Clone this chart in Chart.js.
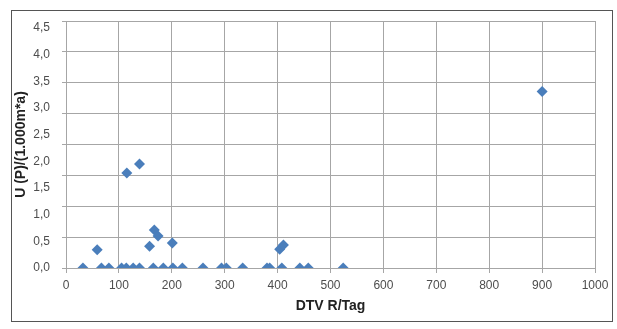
<!DOCTYPE html>
<html>
<head>
<meta charset="utf-8">
<script src="https://cdn.jsdelivr.net/npm/chart.js@4"></script>
<style>
  html, body { margin: 0; padding: 0; background: #fff; }
  #wrap { position: relative; width: 617px; height: 329px; }
  #frame { position: absolute; left: 11px; top: 10px; width: 600px; height: 310px; border: 1px solid #555; pointer-events: none; }
</style>
</head>
<body>
<div id="wrap">
  <canvas id="chart" width="617" height="329"></canvas>
  <div id="frame"></div>
</div>
<script>
// DTV (x) vs U (y)
const dtvValues = [32, 59, 67, 81, 105, 114, 115, 127, 139, 139, 158, 165, 167, 174, 184, 201, 202, 220, 259, 294, 303, 334, 380, 385, 404, 408, 411, 442, 458, 524, 900];
const uValues   = [0, 0.34, 0, 0, 0, 0, 1.78, 0, 0, 1.95, 0.41, 0, 0.71, 0.60, 0, 0.47, 0, 0, 0, 0, 0, 0, 0, 0, 0.35, 0, 0.43, 0, 0, 0, 3.31];
const yTickLabels = [0, 0.5, 1, 1.5, 2, 2.5, 3, 3.5, 4, 4.5];
const xTitle = 'DTV R/Tag';
const yTitle = 'U (P)/(1.000m*a)';

const points = dtvValues.map((x, i) => ({ x: x, y: uValues[i] }));
const gridGray = '#a6a6a6';
const labelColor = '#4d4d4d';

document.addEventListener('DOMContentLoaded', () => {
    new Chart(document.getElementById('chart'), {
        type: 'scatter',
        data: {
            datasets: [{
                data: points,
                pointStyle: 'rectRot',
                pointRadius: 5.5,
                backgroundColor: '#4a7ebb',
                borderColor: '#4a7ebb',
                borderWidth: 0
            }]
        },
        options: {
            responsive: false,
            animation: false,
            layout: { padding: { top: 21, right: 22, left: 0, bottom: 0 } },
            plugins: { legend: { display: false }, tooltip: { enabled: false } },
            scales: {
                x: {
                    type: 'linear',
                    min: 0, max: 1000,
                    ticks: {
                        stepSize: 100, color: labelColor, padding: 5,
                        font: { family: 'Liberation Sans', size: 12 },
                        callback: v => String(v)
                    },
                    grid: { color: gridGray, tickLength: 5 },
                    border: { color: gridGray },
                    title: { display: true, text: xTitle, color: '#222', padding: { top: 4, bottom: 14 }, font: { family: 'Liberation Sans', size: 14, weight: 'bold' } },
                    afterFit: s => { s.height = 61; }
                },
                // labelled axis the values are read against
                y: {
                    type: 'linear',
                    position: 'left',
                    weight: 1,
                    min: 0, max: 4.63,
                    afterBuildTicks: s => { s.ticks = yTickLabels.map(v => ({ value: v })); },
                    ticks: {
                        color: labelColor, padding: 4,
                        font: { family: 'Liberation Sans', size: 12 },
                        callback: v => v.toFixed(1).replace('.', ',')
                    },
                    grid: { display: false },
                    border: { display: false },
                    title: { display: true, text: yTitle, color: '#222', padding: { top: 13, bottom: 0 }, font: { family: 'Liberation Sans', size: 14, weight: 'bold' } },
                    afterFit: s => { s.width = 62; }
                },
                // gridlines as drawn in the source sheet
                yGrid: {
                    type: 'linear',
                    position: 'left',
                    weight: 0,
                    min: 0, max: 4,
                    ticks: { stepSize: 0.5, display: false },
                    grid: { color: gridGray, tickLength: 4 },
                    border: { color: gridGray },
                    afterFit: s => { s.width = 4; }
                }
            }
        }
    });
});
</script>
</body>
</html>
